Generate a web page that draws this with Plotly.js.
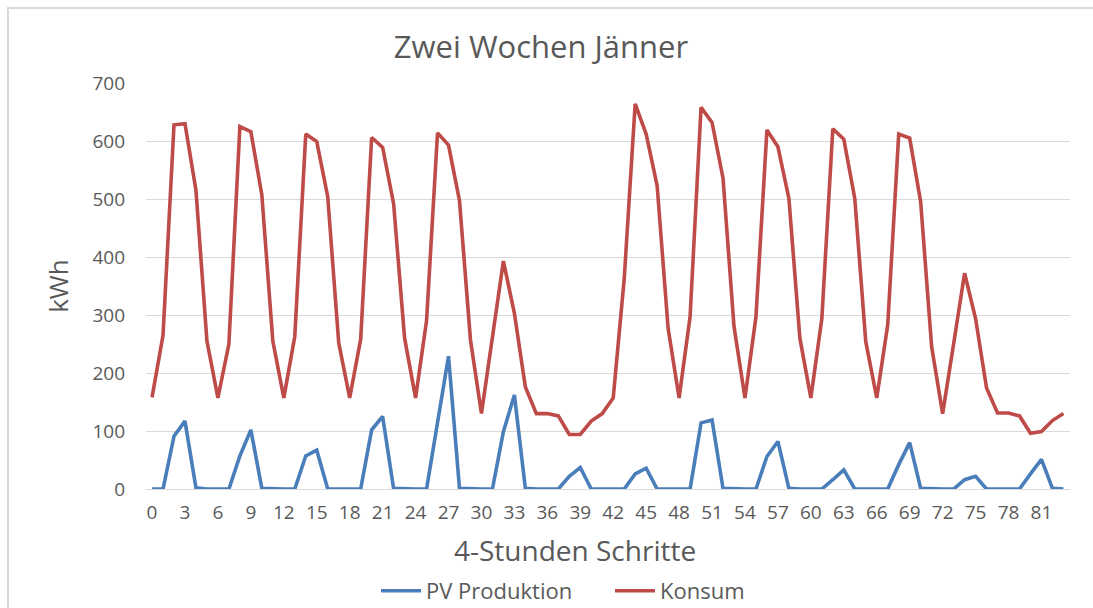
<!DOCTYPE html>
<html>
<head>
<meta charset="utf-8">
<script src="https://cdn.plot.ly/plotly-3.0.1.min.js"></script>
<style>
  html, body { margin:0; padding:0; background:#ffffff; width:1093px; height:608px; overflow:hidden; }
  #frame { position:absolute; left:7px; top:7px; width:1100px; height:620px;
           border-top:2px solid #d9d9d9; border-left:2px solid #d9d9d9; }
  #chart { position:absolute; left:0; top:0; width:1093px; height:608px; }
</style>
</head>
<body>
<div id="frame"></div>
<div id="chart"></div>
<script>
// 4-hour steps (two weeks in January)
const steps = Array.from({length: 84}, (_, i) => i);

const pvProduktion = [
  0, 0, 91, 117, 2, 0, 0, 0, 57, 102, 1, 0, 0, 0, 57, 67, 0, 0, 0, 0,
  102, 125, 1, 0, 0, 0, 112, 229, 1, 0, 0, 0, 99, 162, 1, 0, 0, 0, 22, 37,
  0, 0, 0, 0, 26, 36, 0, 0, 0, 0, 114, 119, 1, 0, 0, 0, 56, 82, 1, 0,
  0, 0, 16, 33, 0, 0, 0, 0, 42, 80, 1, 0, 0, 0, 16, 22, 0, 0, 0, 0,
  26, 51, 1, 0
];

const konsum = [
  158, 265, 628, 630, 515, 255, 157, 250, 625, 616, 507, 255, 157, 263, 612, 599, 504, 252, 157, 258,
  606, 589, 492, 260, 157, 290, 614, 593, 497, 257, 130, 263, 393, 303, 176, 130, 130, 126, 94, 94,
  117, 130, 157, 362, 664, 612, 523, 277, 157, 297, 658, 632, 536, 280, 157, 297, 619, 590, 501, 260,
  157, 294, 621, 603, 501, 254, 157, 283, 612, 605, 495, 245, 130, 250, 372, 294, 174, 131, 131, 126,
  96, 99, 118, 130
];

const xTickVals = [0,3,6,9,12,15,18,21,24,27,30,33,36,39,42,45,48,51,54,57,60,63,66,69,72,75,78,81];
const yTickVals = [0,100,200,300,400,500,600,700];

const FONT = '"Open Sans", "Noto Sans", sans-serif';
const TXT = '#595959';

const traces = [
  { x: steps, y: pvProduktion, name: 'PV Produktion', type: 'scatter', mode: 'lines',
    line: { color: '#4a7ebb', width: 3.6 }, legend: 'legend' },
  { x: steps, y: konsum, name: 'Konsum', type: 'scatter', mode: 'lines',
    line: { color: '#be4b48', width: 3.6 }, legend: 'legend2' }
];

const legendBase = {
  orientation: 'h', xref: 'container', xanchor: 'left', yref: 'container', yanchor: 'middle',
  y: 1 - 591/608, font: { family: FONT, size: 22, color: TXT }, itemwidth: 40,
  bgcolor: 'rgba(0,0,0,0)'
};

const layout = {
  width: 1093, height: 608,
  paper_bgcolor: 'rgba(0,0,0,0)', plot_bgcolor: 'rgba(0,0,0,0)',
  margin: { l: 146, r: 23, t: 83, b: 119 },
  font: { family: FONT, color: TXT },
  title: { text: 'Zwei Wochen Jänner', font: { family: FONT, size: 31, color: TXT },
           x: 541/1093, xref: 'container', xanchor: 'center', y: 1 - 47/608, yref: 'container', yanchor: 'middle' },
  xaxis: {
    range: [-0.55, 83.6], tickmode: 'array', tickvals: xTickVals, ticktext: xTickVals.map(String),
    showgrid: false, zeroline: false, showline: false, ticks: '',
    tickfont: { family: FONT, size: 19, color: TXT }, ticklabelstandoff: 10
  },
  yaxis: {
    range: [0, 700], tickmode: 'array', tickvals: yTickVals, ticktext: yTickVals.map(String),
    showgrid: true, gridcolor: '#d9d9d9', gridwidth: 1, zeroline: true, zerolinecolor: '#d9d9d9', zerolinewidth: 1,
    showline: false, ticks: '',
    tickfont: { family: FONT, size: 19, color: TXT }, ticklabelstandoff: 20,
    title: { text: 'kWh', font: { family: FONT, size: 26, color: TXT }, standoff: 16 }
  },
  annotations: [
    { text: '4-Stunden Schritte', xref: 'paper', yref: 'paper', showarrow: false,
      x: (575 - 146) / (1070 - 146), xanchor: 'center',
      y: -(550 - 489) / (489 - 83), yanchor: 'middle',
      font: { family: FONT, size: 28, color: TXT } }
  ],
  showlegend: true,
  legend: Object.assign({}, legendBase, { x: 376/1093 }),
  legend2: Object.assign({}, legendBase, { x: 610/1093 })
};

Plotly.newPlot('chart', traces, layout, { displayModeBar: false, staticPlot: true });
</script>
</body>
</html>
